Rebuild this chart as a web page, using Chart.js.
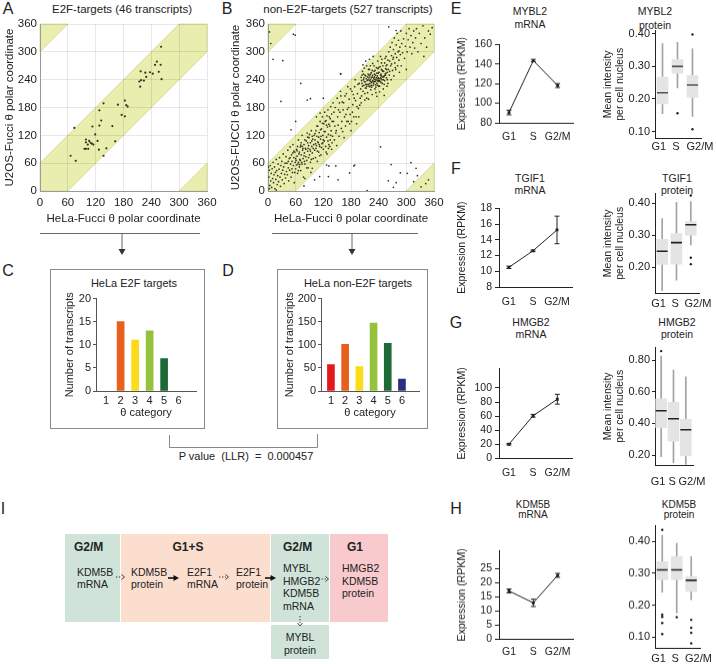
<!DOCTYPE html>
<html>
<head>
<meta charset="utf-8">
<script src="https://cdn.jsdelivr.net/npm/chart.js@4.4.1/dist/chart.umd.min.js"></script>
<style>
  body { margin: 0; background: #fff; }
  #fig { position: relative; width: 716px; height: 664px; overflow: hidden; font-family: "Liberation Sans", Arial, sans-serif; color: #222; }
  #fig canvas { position: absolute; }
  .t { position: absolute; white-space: pre; line-height: 1; transform: translate(-50%, -50%); }
  .l { position: absolute; white-space: pre; line-height: 1; transform: translateY(-50%); }
  .big { font-size: 16px; }
  .s115 { font-size: 11.5px; }
  .s11 { font-size: 11px; }
  .s105 { font-size: 10.5px; }
  .s10 { font-size: 10px; }
  .b { font-weight: bold; font-size: 12px; }
  .frame { position: absolute; border: 1px solid #8a8a8a; box-sizing: border-box; }
  .cell { position: absolute; }
  svg { position: absolute; left: 0; top: 0; }
</style>
</head>
<body>
<div id="fig">
  <!-- panel letters -->
  <div class="t big" style="left:8px;top:9px">A</div>
  <div class="t big" style="left:227px;top:9px">B</div>
  <div class="t big" style="left:8px;top:271px">C</div>
  <div class="t big" style="left:228px;top:271px">D</div>
  <div class="t big" style="left:456px;top:9px">E</div>
  <div class="t big" style="left:456px;top:169px">F</div>
  <div class="t big" style="left:456px;top:323px">G</div>
  <div class="t big" style="left:456px;top:509px">H</div>
  <div class="t big" style="left:3px;top:509px">I</div>

  <!-- scatter titles -->
  <div class="t s115" style="left:122px;top:10px">E2F-targets (46 transcripts)</div>
  <div class="t s115" style="left:348px;top:10px">non-E2F-targets (527 transcripts)</div>

  <!-- histogram frames and titles -->
  <div class="frame" style="left:50px;top:269px;width:155px;height:160px"></div>
  <div class="frame" style="left:277px;top:269px;width:151px;height:160px"></div>
  <div class="t s11" style="left:134px;top:283px">HeLa E2F targets</div>
  <div class="t s11" style="left:358px;top:283px">HeLa non-E2F targets</div>
  <div class="t s11" style="left:246px;top:456px">P value  (LLR)  =  0.000457</div>

  <!-- E-H titles -->
  <div class="t s105" style="left:530px;top:11px">MYBL2</div>
  <div class="t s105" style="left:530px;top:24px">mRNA</div>
  <div class="t s105" style="left:655px;top:11px">MYBL2</div>
  <div class="t s105" style="left:655px;top:25px">protein</div>
  <div class="t s105" style="left:530px;top:178px">TGIF1</div>
  <div class="t s105" style="left:530px;top:190px">mRNA</div>
  <div class="t s105" style="left:677px;top:178px">TGIF1</div>
  <div class="t s105" style="left:677px;top:190px">protein</div>
  <div class="t s105" style="left:531px;top:322px">HMGB2</div>
  <div class="t s105" style="left:531px;top:334px">mRNA</div>
  <div class="t s105" style="left:677px;top:322px">HMGB2</div>
  <div class="t s105" style="left:677px;top:334px">protein</div>
  <div class="t s10" style="left:533px;top:505px">KDM5B</div>
  <div class="t s10" style="left:533px;top:515px">mRNA</div>
  <div class="t s10" style="left:679px;top:505px">KDM5B</div>
  <div class="t s10" style="left:679px;top:515px">protein</div>

  <!-- diagram I -->
  <div class="cell" style="left:65px;top:534px;width:55px;height:88px;background:#cfe3d9"></div>
  <div class="cell" style="left:121px;top:534px;width:149px;height:88px;background:#fbdece"></div>
  <div class="cell" style="left:271px;top:534px;width:58px;height:88px;background:#cfe3d9"></div>
  <div class="cell" style="left:330px;top:534px;width:58px;height:88px;background:#f8cacd"></div>
  <div class="cell" style="left:271px;top:625px;width:58px;height:34px;background:#cfe3d9"></div>
  <div class="l b" style="left:74px;top:547px">G2/M</div>
  <div class="t b" style="left:188px;top:547px">G1+S</div>
  <div class="l b" style="left:283px;top:547px">G2/M</div>
  <div class="l b" style="left:347px;top:547px">G1</div>
  <div class="l s105" style="left:77px;top:572px">KDM5B</div>
  <div class="l s105" style="left:77px;top:584px">mRNA</div>
  <div class="l s105" style="left:131px;top:572px">KDM5B</div>
  <div class="l s105" style="left:131px;top:584px">protein</div>
  <div class="l s105" style="left:187px;top:572px">E2F1</div>
  <div class="l s105" style="left:187px;top:584px">mRNA</div>
  <div class="l s105" style="left:236px;top:572px">E2F1</div>
  <div class="l s105" style="left:236px;top:584px">protein</div>
  <div class="l s105" style="left:283px;top:568px">MYBL</div>
  <div class="l s105" style="left:283px;top:580.5px">HMGB2</div>
  <div class="l s105" style="left:283px;top:593px">KDM5B</div>
  <div class="l s105" style="left:283px;top:605.5px">mRNA</div>
  <div class="l s105" style="left:342px;top:568px">HMGB2</div>
  <div class="l s105" style="left:342px;top:580.5px">KDM5B</div>
  <div class="l s105" style="left:342px;top:593px">protein</div>
  <div class="t s105" style="left:300px;top:637px">MYBL</div>
  <div class="t s105" style="left:300px;top:649.5px">protein</div>

  <svg width="716" height="664">
    <g stroke="#666" fill="none" stroke-width="1">
      <path d="M40 233.5H200 M122 233.5V250"/>
      <path d="M272 233.5H418 M352 233.5V250"/>
      <path d="M169.5 435V447.5H317.5V434" stroke="#888"/>
    </g>
    <path d="M118.5 249L125.5 249L122 255Z" fill="#333"/>
    <path d="M348.5 249L355.5 249L352 255Z" fill="#333"/>
    <g stroke="#333" fill="none" stroke-width="1" stroke-dasharray="1.3 1.7">
      <path d="M116 577H122"/>
      <path d="M219 577H226"/>
      <path d="M321.5 579H326"/>
      <path d="M300 616V623"/>
    </g>
    <g stroke="#333" fill="none" stroke-width="0.9">
      <path d="M121.5 574.5L124.5 577L121.5 579.5"/>
      <path d="M225.5 574.5L228.5 577L225.5 579.5"/>
      <path d="M325.5 576.5L328.5 579L325.5 581.5"/>
      <path d="M297.5 623L300 626L302.5 623"/>
    </g>
    <g stroke="#111" stroke-width="1.6">
      <path d="M168 578H174"/>
      <path d="M265 578H271"/>
    </g>
    <path d="M173.5 575L179 578L173.5 581Z" fill="#111"/>
    <path d="M270.5 575L276 578L270.5 581Z" fill="#111"/>
  </svg>
</div>

<script>
// ---- theta comparison (HeLa vs U2OS), values in degrees ----
const e2fPoints = [
  [261,311],[252,279],[260,272],[248,272],[256,257],[217,258],[227,255],[237,256],[243,253],[214,236],
  [218,239],[229,246],[224,238],[262,241],[216,225],[137,189],[183,195],[186,185],[189,182],[168,186],
  [128,174],[132,152],[176,164],[183,161],[74,136],[113,139],[128,141],[156,140],[119,122],[99,111],
  [99,105],[106,108],[109,104],[115,100],[99,91],[104,91],[112,102],[124,108],[143,92],[162,107],
  [66,76],[77,65],[137,76],[127,89],[103,100],[96,91]
];

const nonE2fPoints = [
  // lower band start
  [2,30],[3,45],[4,12],[5,55],[6,22],[7,38],[8,8],[9,48],[10,27],[11,62],[12,18],[13,35],[14,52],[15,5],
  [16,40],[17,25],[18,68],[19,44],[20,14],[21,33],[22,58],[23,20],[24,47],[25,72],[26,30],[27,10],[28,55],
  [29,38],[30,64],[31,24],[32,45],[33,80],[34,52],[35,16],[36,36],[37,60],[38,28],[39,74],[40,42],[3,5],[1,52],[18,2],
  [41,60],[42,35],[43,88],[44,50],[45,22],[46,70],[47,45],[48,95],[49,58],[50,30],[51,78],[52,64],[53,40],
  [54,100],[55,55],[56,72],[57,18],[58,84],[59,62],[60,48],[61,66],[62,90],[63,75],[64,38],[65,58],[66,110],
  [67,80],[68,52],[69,68],[70,95],[71,44],[72,78],[73,62],[74,120],[75,88],[76,70],[77,30],[78,100],[79,82],
  [80,58],[81,92],[82,74],[83,108],[84,66],[85,125],[86,86],[87,50],[88,98],[89,115],[90,78],[91,90],[92,104],
  [93,40],[94,130],[95,96],[96,82],[97,112],[98,70],[99,100],[100,120],
  [44,64],[48,72],[52,48],[56,86],[60,70],[62,56],[64,96],[66,62],[68,84],[70,66],[72,104],[74,58],[76,92],
  [78,76],[80,110],[82,90],[84,50],[86,104],[88,72],[90,122],[92,86],[94,68],[96,118],[98,92],[58,40],[66,44],
  [74,96],[86,116],[92,62],[54,82],[63,87],[71,99],[79,64],[87,92],[95,108],[69,57],
  // middle of band
  [101,88],[102,110],[103,72],[104,130],[105,98],[106,118],[107,64],[108,140],[109,104],[110,84],[111,126],
  [112,96],[113,150],[114,112],[115,78],[116,134],[117,102],[118,160],[119,120],[120,90],[121,145],[122,108],
  [123,170],[124,128],[125,96],[126,152],[127,116],[128,80],[129,138],[130,175],[131,122],[132,100],[133,160],
  [134,140],[135,110],[136,182],[137,130],[138,90],[139,150],[140,118],
  [102,124],[104,92],[106,140],[108,106],[110,116],[112,76],[114,132],[116,94],[118,146],[120,110],[122,128],
  [124,150],[126,84],[128,162],[130,108],[132,144],[134,96],[136,120],[138,166],[103,102],[107,86],[111,100],
  [115,118],[119,104],[127,142],[131,92],[135,156],[139,104],[105,160],[113,168],
  [142,150],[144,110],[146,180],[148,130],[150,200],[152,142],[154,118],[156,170],[158,205],[160,150],[162,128],
  [164,190],[166,160],[168,140],[170,210],[172,176],[174,150],[176,198],[178,165],[180,130],[182,215],[184,186],
  [186,160],[188,225],[190,195],[192,145],[194,210],[196,178],[198,232],[200,200],
  [143,170],[147,125],[151,160],[155,190],[159,135],[163,175],[167,205],[171,150],[175,180],[179,220],[183,170],
  [187,200],[191,160],[195,230],[199,185],[145,140],[153,175],[161,192],[169,165],[177,145],[185,208],[193,182],
  [149,98],[165,115],[181,150],[197,160],[157,215],[173,225],[189,240],[141,190],
  // dense cluster
  [201,220],[202,245],[203,205],[204,232],[205,258],[206,215],[207,240],[208,228],[209,265],[210,210],[211,235],
  [212,248],[213,222],[214,270],[215,238],[216,212],[217,252],[218,230],[219,244],[220,262],[221,225],[222,240],
  [223,218],[224,255],[225,234],[226,246],[227,275],[228,228],[229,242],[230,258],[231,236],[232,220],[233,250],
  [234,240],[235,266],[236,232],[237,248],[238,280],[239,244],[240,226],[241,256],[242,238],[243,268],[244,250],
  [245,234],[246,262],[247,284],[248,246],[249,270],[250,240],[251,258],[252,230],[253,276],[254,252],[255,264],
  [256,290],[257,244],[258,272],[259,256],[260,282],
  [203,238],[205,226],[207,252],[209,236],[211,222],[213,242],[215,230],[217,240],[219,226],[221,248],[223,236],
  [225,224],[227,250],[229,232],[231,246],[233,236],[235,244],[237,228],[239,254],[241,242],[243,236],[245,252],
  [247,240],[249,258],[251,246],[253,238],[255,250],[257,262],[259,240],[204,250],[208,244],[212,230],[216,246],
  [220,238],[224,244],[228,236],[232,240],[236,254],[240,238],[244,244],[248,232],[252,248],[256,254],[210,196],
  [214,200],[218,262],[222,270],[226,208],[230,270],[234,212],[238,264],[242,214],[246,276],[250,220],[254,286],
  [258,226],[206,272],[212,280],[220,284],[228,290],[236,204],[244,290],[252,206],[260,232],[202,190],[218,198],
  [234,224],[242,226],[226,260],[230,244],[222,252],[238,242],[246,248],[214,226],[210,250],[224,228],[232,260],
  [240,266],[248,260],[256,270],[227,238],[233,229],[239,236],[221,232],[245,242],[219,250],[231,252],[237,238],
  // upper band end
  [261,262],[262,300],[263,250],[264,280],[265,310],[266,270],[267,240],[268,292],[269,320],[270,260],[271,284],
  [272,305],[273,248],[274,330],[275,276],[276,296],[277,262],[278,315],[279,288],[280,340],[281,270],[282,300],
  [283,325],[284,282],[285,256],[286,310],[287,294],[288,345],[289,270],[290,318],[292,298],[294,328],[296,286],
  [298,312],[300,340],[302,300],[304,326],[306,350],[308,310],[310,335],[312,296],[314,320],[316,345],[318,308],
  [320,330],[264,258],[268,274],[272,288],[276,266],[284,302],
  [322,350],[325,300],[328,340],[332,318],[336,356],[340,330],[344,310],[348,345],[352,338],[356,352],[300,262],[338,290],
  // outside the band
  [3,343],[6,318],[55,338],[59,336],[11,284],[32,281],[71,232],[92,199],[85,196],[28,193],[50,132],[127,56],
  [132,54],[147,54],[80,27],[131,31],[152,24],[188,56],[158,252],[262,354],[278,346],[244,95],[186,54],[267,57],
  [287,39],[302,38],[310,61],[321,49],[324,33],[316,20],[278,18],[272,8],[261,22],[215,1],[332,9],[342,16],
  [348,24],[101,24],[112,31],[96,49],[78,11],[177,39],[157,253],[120,200],[60,150]
];

// shaded +-60 degree band (wraps round at 360)
const bandPolys = [
  [[0,0],[60,0],[360,300],[360,360],[300,360],[0,60]],
  [[0,300],[60,360],[0,360]],
  [[300,0],[360,0],[360,60]]
];

// ---- theta category histograms ----
const thetaCats = [1, 2, 3, 4, 5, 6];
const thetaColors = ['#e3191c', '#e8601c', '#fbdc1a', '#95c13c', '#1d6a38', '#2d2c85'];
const e2fCounts = [0, 15, 11, 13, 7, 0];
const nonE2fCounts = [57, 101, 53, 147, 103, 26];

// ---- mRNA (RPKM, mean and error) ----
const phases = ['G1', 'S', 'G2/M'];
const mybl2Mrna = [90.5, 143.5, 118];
const mybl2Err = [2.3, 1.2, 2.0];
const tgif1Mrna = [10.5, 12.6, 15.25];
const tgif1Err = [0.15, 0.1, 1.75];
const hmgb2Mrna = [20, 60.5, 84];
const hmgb2Err = [1, 2, 7];
const kdm5bMrna = [17.1, 12.9, 22.6];
const kdm5bErr = [0.7, 1.3, 0.7];

// ---- protein (mean intensity per nucleus): [low whisker, q1, median, q3, high whisker] ----
const mybl2Box = [[0.155, 0.185, 0.219, 0.267, 0.370], [0.234, 0.279, 0.300, 0.321, 0.374], [0.146, 0.205, 0.243, 0.272, 0.354]];
const mybl2Out = [[1, 0.156], [2, 0.398], [2, 0.107]];
const tgif1Box = [[0.127, 0.209, 0.250, 0.287, 0.352], [0.160, 0.210, 0.277, 0.305, 0.403], [0.270, 0.300, 0.333, 0.343, 0.405]];
const tgif1Out = [[2, 0.424], [2, 0.230], [2, 0.210]];
const hmgb2Box = [[0.190, 0.373, 0.480, 0.555, 0.827], [0.152, 0.288, 0.430, 0.534, 0.737], [0.140, 0.194, 0.360, 0.426, 0.695]];
const hmgb2Out = [[0, 0.858]];
const kdm5bBox = [[0.241, 0.280, 0.311, 0.337, 0.420], [0.176, 0.280, 0.311, 0.353, 0.395], [0.217, 0.243, 0.278, 0.290, 0.353]];
const kdm5bOut = [[0, 0.437], [0, 0.170], [0, 0.163], [0, 0.144], [0, 0.109], [1, 0.162],
                  [2, 0.154], [2, 0.129], [2, 0.113], [2, 0.080]];
// the phase labels under the box plots sit a little wider apart than the boxes
const boxLabelPos = [-0.25, 0.9, 2.5];

Chart.defaults.font.family = '"Liberation Sans", Arial, sans-serif';
Chart.defaults.color = '#222';
Chart.defaults.animation = false;
Chart.defaults.plugins.legend.display = false;
Chart.defaults.plugins.tooltip.enabled = false;

function makeCanvas(left, top, w, h) {
  const c = document.createElement('canvas');
  c.width = w; c.height = h;
  c.style.left = left + 'px'; c.style.top = top + 'px';
  c.style.width = w + 'px'; c.style.height = h + 'px';
  document.getElementById('fig').appendChild(c);
  return c;
}

// band painted before the grid so grid lines stay visible on top
const bandPlugin = {
  id: 'bands',
  beforeDraw(chart) {
    const {ctx, scales: {x, y}} = chart;
    ctx.save();
    ctx.fillStyle = '#e9edae';
    ctx.strokeStyle = '#d2d88a';
    ctx.lineWidth = 0.8;
    bandPolys.forEach(poly => {
      ctx.beginPath();
      poly.forEach(([vx, vy], i) => {
        const px = x.getPixelForValue(vx), py = y.getPixelForValue(vy);
        if (i) ctx.lineTo(px, py); else ctx.moveTo(px, py);
      });
      ctx.closePath();
      ctx.fill();
      ctx.stroke();
    });
    ctx.restore();
  }
};

function thetaPlot(left, pts, yTitle, padRight, yTitlePad, radius) {
  const canvas = makeCanvas(left, 0, 225, 230);
  return new Chart(canvas, {
    type: 'scatter',
    data: {
      datasets: [{
        data: pts.map(p => ({x: p[0], y: p[1]})),
        pointRadius: radius, backgroundColor: '#33331f', borderWidth: 0
      }]
    },
    options: {
      responsive: false, devicePixelRatio: 1,
      layout: {padding: {top: 24, right: padRight}},
      scales: {
        x: {
          min: 0, max: 360,
          ticks: {stepSize: 60, padding: 5, maxRotation: 0, font: {size: 11.5}},
          grid: {color: 'rgba(0,0,0,0.09)', drawTicks: false},
          border: {color: '#9a9a9a'},
          title: {display: true, text: 'HeLa-Fucci θ polar coordinate', font: {size: 11.5}, padding: {top: 0, bottom: 4}},
          afterFit: s => { s.height = 39; }
        },
        y: {
          min: 0, max: 360,
          ticks: {stepSize: 60, padding: 3, font: {size: 11.5}},
          grid: {color: 'rgba(0,0,0,0.09)', drawTicks: false},
          border: {color: '#9a9a9a'},
          title: {display: true, text: yTitle, font: {size: 11.5}, padding: {top: yTitlePad, bottom: 0}},
          afterFit: s => { s.width = 40; }
        }
      }
    },
    plugins: [bandPlugin]
  });
}

function thetaBars(left, width, counts, yMax, yStep, yAxisW, titlePad) {
  const canvas = makeCanvas(left, 290, width, 137);
  return new Chart(canvas, {
    type: 'bar',
    data: {
      datasets: [{
        // empty categories get no bar at all
        data: thetaCats.map((c, i) => ({x: c, y: counts[i] || null})),
        backgroundColor: thetaColors, barThickness: 7
      }]
    },
    options: {
      responsive: false, devicePixelRatio: 1,
      layout: {padding: {top: 7.7, right: 7}},
      scales: {
        x: {
          type: 'linear', min: 0.3, max: 7.2, offset: false,
          afterBuildTicks: s => { s.ticks = thetaCats.map(v => ({value: v})); },
          ticks: {padding: 3, font: {size: 11}},
          grid: {drawOnChartArea: false, drawTicks: false, offset: false},
          border: {color: '#555'},
          title: {display: true, text: 'θ category', font: {size: 11}, padding: {top: 0, bottom: 7}},
          afterFit: s => { s.height = 36; }
        },
        y: {
          min: 0, max: yMax,
          ticks: {stepSize: yStep, padding: 2, font: {size: 11}},
          grid: {drawOnChartArea: false, tickLength: 3, color: '#555'},
          border: {color: '#555'},
          title: {display: true, text: 'Number of transcripts', font: {size: 11}, padding: {top: titlePad, bottom: 0}},
          afterFit: s => { s.width = yAxisW; }
        }
      }
    }
  });
}

const errorBars = {
  id: 'errorBars',
  afterDatasetsDraw(chart) {
    const {ctx, scales: {y}} = chart;
    const ds = chart.data.datasets[0];
    const meta = chart.getDatasetMeta(0);
    ctx.save();
    ctx.strokeStyle = '#222';
    ctx.lineWidth = 1;
    meta.data.forEach((pt, i) => {
      const v = ds.data[i].y, e = ds.errors[i];
      const top = y.getPixelForValue(v + e), bot = y.getPixelForValue(v - e);
      ctx.beginPath();
      ctx.moveTo(pt.x, top); ctx.lineTo(pt.x, bot);
      ctx.moveTo(pt.x - 2.5, top); ctx.lineTo(pt.x + 2.5, top);
      ctx.moveTo(pt.x - 2.5, bot); ctx.lineTo(pt.x + 2.5, bot);
      ctx.stroke();
    });
    ctx.restore();
  }
};

function mrnaPlot(plotTop, plotBot, labelY, vals, errs, yMin, yMax, yTicks) {
  const top = plotTop - 8, bottom = labelY + 9;
  const canvas = makeCanvas(450, top, 130, bottom - top);
  return new Chart(canvas, {
    type: 'line',
    data: {
      datasets: [{
        data: vals.map((v, i) => ({x: i, y: v})), errors: errs,
        borderColor: '#222', borderWidth: 1, pointStyle: 'rect', pointRadius: 2,
        backgroundColor: '#222', pointBorderWidth: 0
      }]
    },
    options: {
      responsive: false, devicePixelRatio: 1,
      layout: {padding: {top: 8, right: 7}},
      scales: {
        x: {
          type: 'linear', min: -0.41, max: 2.63, offset: false,
          afterBuildTicks: s => { s.ticks = phases.map((p, i) => ({value: i})); },
          ticks: {padding: labelY - plotBot - 6.3, font: {size: 10.5}, maxRotation: 0, autoSkip: false,
                  callback: v => phases[v]},
          grid: {drawOnChartArea: false, drawTicks: false, offset: false},
          border: {color: '#222'},
          afterFit: s => { s.height = bottom - plotBot; }
        },
        y: {
          min: yMin, max: yMax,
          afterBuildTicks: s => { s.ticks = yTicks.map(v => ({value: v})); },
          ticks: {padding: 3, font: {size: 10.5}},
          grid: {drawOnChartArea: false, tickLength: 4, color: '#222'},
          border: {color: '#222'},
          title: {display: true, text: 'Expression (RPKM)', font: {size: 10.5}, padding: {top: 5.7, bottom: 0}},
          afterFit: s => { s.width = 49; }
        }
      }
    },
    plugins: [errorBars]
  });
}

function proteinPlot(plotTop, plotBot, labelPad, box, outl, yMin, yMax, yTicks, showTitle, medColor) {
  const top = plotTop - 8, bottom = plotBot + labelPad + 15;
  const canvas = makeCanvas(598, top, 118, bottom - top);
  return new Chart(canvas, {
    type: 'bar',
    data: {
      datasets: [
        {data: box.map((b, i) => ({x: i, y: [b[0], b[4]]})), backgroundColor: '#a3a3a3',
         barThickness: 1, grouped: false, order: 3},
        {data: box.map((b, i) => ({x: i, y: [b[1], b[3]]})), backgroundColor: '#e4e4e4',
         barThickness: 11, grouped: false, order: 2},
        {type: 'scatter', data: box.map((b, i) => ({x: i, y: b[2]})), pointStyle: 'line',
         pointRadius: 5.5, borderColor: medColor, borderWidth: 1.6, order: 1},
        {type: 'scatter', data: outl.map(o => ({x: o[0], y: o[1]})), pointRadius: 1.2,
         backgroundColor: '#222', borderWidth: 0, order: 0}
      ]
    },
    options: {
      responsive: false, devicePixelRatio: 1,
      layout: {padding: {top: 8, right: 14}},
      scales: {
        x: {
          type: 'linear', min: -0.5, max: 2.63, offset: false,
          afterBuildTicks: s => { s.ticks = boxLabelPos.map(v => ({value: v})); },
          ticks: {padding: labelPad, font: {size: 11}, maxRotation: 0, autoSkip: false,
                  callback: (v, i) => phases[i]},
          grid: {drawOnChartArea: false, drawTicks: false, offset: false},
          border: {color: '#222'},
          afterFit: s => { s.height = bottom - plotBot; }
        },
        y: {
          min: yMin, max: yMax,
          afterBuildTicks: s => { s.ticks = yTicks.map(v => ({value: v})); },
          ticks: {padding: 2, font: {size: 11}, callback: v => v.toFixed(2)},
          grid: {drawOnChartArea: false, tickLength: 3, color: '#222'},
          border: {color: '#222'},
          title: {display: showTitle, text: ['Mean intensity', 'per cell nucleus'],
                  font: {size: 10.5, lineHeight: 1.15}, padding: {top: 3.7, bottom: 0}},
          afterFit: s => { s.width = 57; }
        }
      }
    }
  });
}

thetaPlot(0, e2fPoints, 'U2OS-Fucci θ polar coordinate', 18, 3, 1.1);
thetaPlot(228, nonE2fPoints, 'U2OS-FUCCI θ polar coordinate', 19, 0.5, 0.85);

thetaBars(51, 152, e2fCounts, 20, 5, 45, 12.4);
thetaBars(278, 148, nonE2fCounts, 200, 50, 43, 5.4);

mrnaPlot(43.3, 123, 137, mybl2Mrna, mybl2Err, 80, 160, [80, 100, 120, 140, 160]);
mrnaPlot(206.7, 286.7, 301.7, tgif1Mrna, tgif1Err, 8, 18, [8, 10, 12, 14, 16, 18]);
mrnaPlot(366.7, 458.3, 473, hmgb2Mrna, hmgb2Err, 0, 128, [0, 20, 40, 60, 80, 100]);
mrnaPlot(549, 639.3, 651.7, kdm5bMrna, kdm5bErr, 0, 31.4, [0, 5, 10, 15, 20, 25]);

proteinPlot(30, 138.3, 2, mybl2Box, mybl2Out, 0.08, 0.41, [0.1, 0.2, 0.3, 0.4], true, '#555');
proteinPlot(193.3, 293.3, 4, tgif1Box, tgif1Out, 0.12, 0.43, [0.2, 0.3, 0.4], true, '#222');
proteinPlot(346.7, 465, 10, hmgb2Box, hmgb2Out, 0.137, 0.88, [0.2, 0.4, 0.6, 0.8], true, '#222');
proteinPlot(525, 648.3, 3.5, kdm5bBox, kdm5bOut, 0.064, 0.45, [0.1, 0.2, 0.3, 0.4], false, '#222');
</script>
</body>
</html>
